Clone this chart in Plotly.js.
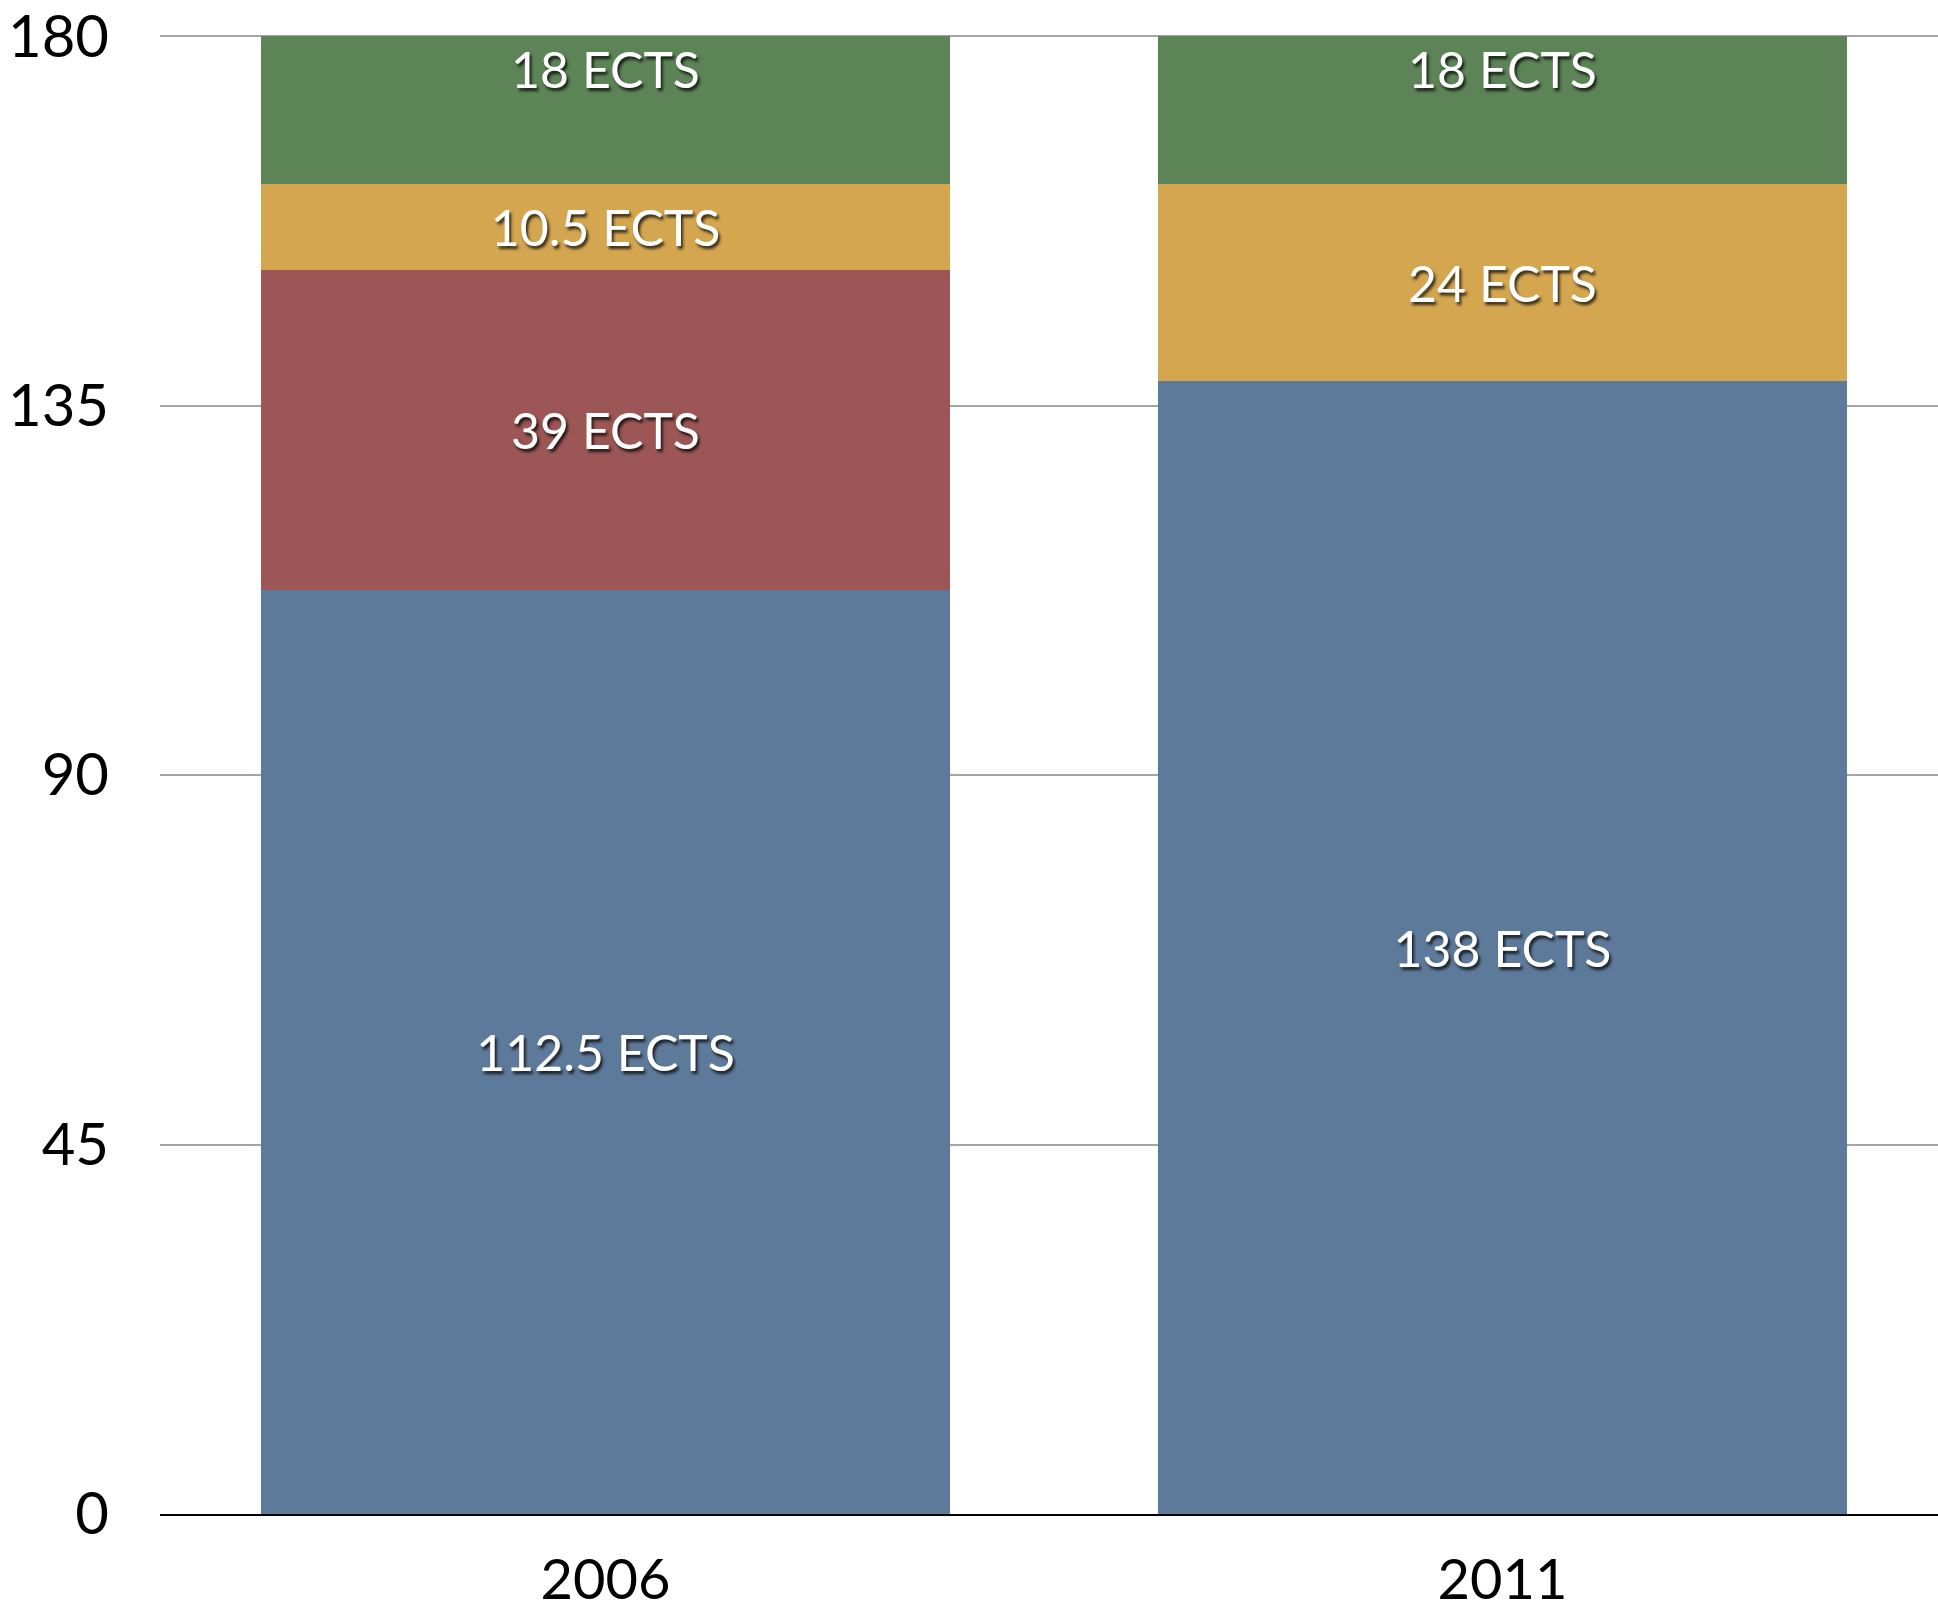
<!DOCTYPE html>
<html>
<head>
<meta charset="utf-8">
<script src="https://cdn.plot.ly/plotly-3.0.1.min.js"></script>
<style>
  html, body { margin: 0; padding: 0; background: #ffffff; }
  #chart { width: 1938px; height: 1614px; }
</style>
</head>
<body>
<div id="chart"></div>
<script>
// Data
const years = ["2006", "2011"];
const blueValues = [112.5, 138];
const redValues = [39, null];
const goldValues = [10.5, 24];
const greenValues = [18, 18];
const yTickValues = [0, 45, 90, 135, 180];
const yTickLabels = ["0", "45", "90", "135", "180"];

const labelFont = {
  family: "Lato, 'Open Sans', sans-serif",
  size: 50,
  color: "#ffffff",
  shadow: "2px 3px 3px rgba(0,0,0,0.75)"
};

function seg(values, color, anchor) {
  return {
    type: "bar",
    x: years,
    y: values,
    marker: { color: color, line: { width: 0 } },
    width: 0.768,
    texttemplate: "%{y} ECTS",
    textposition: "inside",
    insidetextanchor: anchor,
    constraintext: "none",
    textangle: 0,
    insidetextfont: labelFont,
    hoverinfo: "skip",
    showlegend: false
  };
}

const traces = [
  seg(blueValues, "#5e7a9a", "middle"),
  seg(redValues, "#9c5656", "middle"),
  seg(goldValues, "#d4a64f", "middle"),
  seg(greenValues, "#5c8456", "end")
];

const layout = {
  width: 1938,
  height: 1614,
  margin: { l: 160, r: 0, t: 28, b: 100, pad: 0 },
  paper_bgcolor: "#ffffff",
  plot_bgcolor: "#ffffff",
  barmode: "stack",
  showlegend: false,
  font: { family: "Lato, 'Open Sans', sans-serif", color: "#000000" },
  xaxis: {
    type: "category",
    range: [-0.4967, 1.4855],
    showgrid: false,
    zeroline: false,
    showline: true,
    linecolor: "#000000",
    linewidth: 2,
    ticks: "",
    tickfont: { size: 56, color: "#000000" },
    ticklabelstandoff: 16
  },
  yaxis: {
    range: [0, 181],
    tickmode: "array",
    tickvals: yTickValues,
    ticktext: yTickLabels,
    showgrid: true,
    gridcolor: "#a5a5a5",
    gridwidth: 2,
    zeroline: false,
    showline: false,
    ticks: "",
    tickfont: { size: 58, color: "#000000" },
    ticklabelstandoff: 50,
    ticklabeloverflow: "allow"
  }
};

Plotly.newPlot("chart", traces, layout, { displayModeBar: false, staticPlot: true });
</script>
</body>
</html>
